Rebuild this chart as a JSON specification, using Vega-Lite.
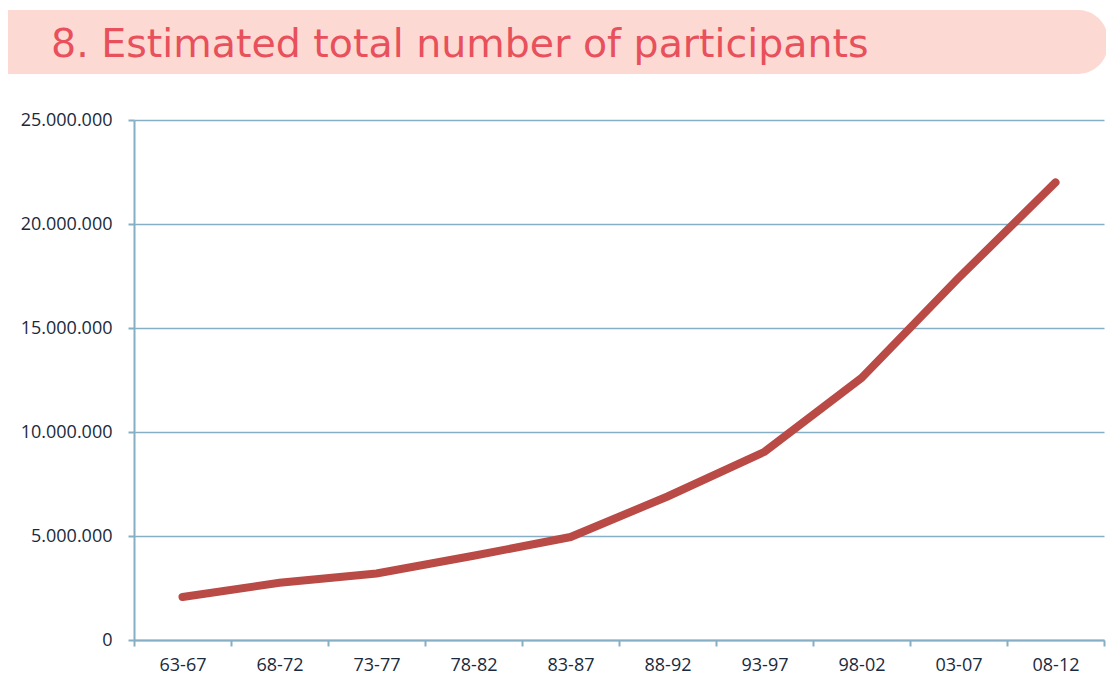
{
  "$schema": "https://vega.github.io/schema/vega-lite/v6.json",
  "background": "white",
  "padding": {"left": 8, "top": 10, "right": 0, "bottom": 0},
  "spacing": 36,
  "config": {"view": {"stroke": null}},
  "vconcat": [
    {
      "width": 970,
      "height": 65,
      "data": {"values": [{"t": "8. Estimated total number of participants"}]},
      "layer": [
        {
          "mark": {"type": "rect", "fill": "#fcd9d3", "cornerRadiusTopRight": 30, "cornerRadiusBottomRight": 30, "clip": false},
          "encoding": {
            "x": {"value": -126},
            "x2": {"value": 974},
            "y": {"value": 0},
            "y2": {"value": 64}
          }
        },
        {
          "mark": {"type": "text", "align": "left", "baseline": "alphabetic", "font": "DejaVu Sans", "fontSize": 39.5, "color": "#e8505c", "clip": false},
          "encoding": {
            "text": {"field": "t"},
            "x": {"value": -83},
            "y": {"value": 47}
          }
        }
      ]
    },
    {
      "width": 970,
      "height": 520,
      "data": {
        "values": [
          {"period": "63-67", "participants": 2070000},
          {"period": "68-72", "participants": 2750000},
          {"period": "73-77", "participants": 3200000},
          {"period": "78-82", "participants": 4050000},
          {"period": "83-87", "participants": 4950000},
          {"period": "88-92", "participants": 6900000},
          {"period": "93-97", "participants": 9050000},
          {"period": "98-02", "participants": 12600000},
          {"period": "03-07", "participants": 17400000},
          {"period": "08-12", "participants": 22000000}
        ]
      },
      "mark": {"type": "line", "color": "#b94a45", "strokeWidth": 8, "strokeCap": "round"},
      "encoding": {
        "x": {
          "field": "period",
          "type": "ordinal",
          "sort": null,
          "scale": {"paddingInner": 0, "paddingOuter": 0},
          "axis": {
            "title": null,
            "labelAngle": 0,
            "labelFont": "Open Sans",
            "labelFontSize": 18,
            "labelColor": "#1a2a3c",
            "labelPadding": 10,
            "domainColor": "#86aec4",
            "domainWidth": 2,
            "tickColor": "#86aec4",
            "tickWidth": 2,
            "tickSize": 6,
            "tickBand": "extent",
            "grid": false
          }
        },
        "y": {
          "field": "participants",
          "type": "quantitative",
          "scale": {"domain": [0, 25000000]},
          "axis": {
            "title": null,
            "values": [0, 5000000, 10000000, 15000000, 20000000, 25000000],
            "labelExpr": "replace(format(datum.value, ','), /,/g, '.')",
            "labelFont": "Open Sans",
            "labelFontSize": 18,
            "labelColor": "#1a2a3c",
            "labelPadding": 16,
            "minExtent": 126,
            "domainColor": "#86aec4",
            "domainWidth": 2,
            "tickColor": "#86aec4",
            "tickWidth": 2,
            "tickSize": 6,
            "gridColor": "#86aec4",
            "gridWidth": 1.5,
            "gridOpacity": 1
          }
        }
      }
    }
  ]
}
